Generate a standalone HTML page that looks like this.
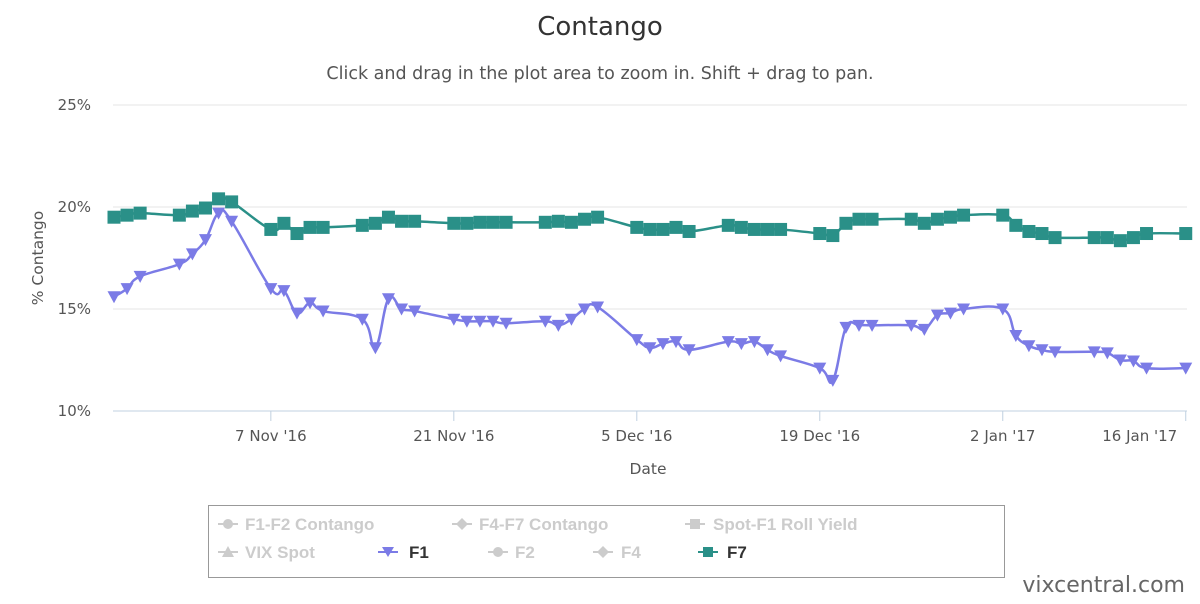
<!DOCTYPE html>
<html><head><meta charset="utf-8"><style>
body{margin:0;background:#fff;font-family:"DejaVu Sans",sans-serif;}
svg text{font-family:"DejaVu Sans",sans-serif;}
svg .lg text{font-family:"Liberation Sans",sans-serif;}
</style></head><body>
<svg id="chart" width="1200" height="600" xmlns="http://www.w3.org/2000/svg">
<text x="600" y="35" text-anchor="middle" font-size="26" fill="#333">Contango</text>
<text x="600" y="79" text-anchor="middle" font-size="17.5" fill="#555">Click and drag in the plot area to zoom in. Shift + drag to pan.</text>
<g id="grid"></g>
<g id="xaxis"></g>
<text transform="translate(43,258) rotate(-90)" text-anchor="middle" font-size="15.5" fill="#555">% Contango</text>
<text x="648" y="474" text-anchor="middle" font-size="15.5" fill="#555">Date</text>
<g id="series"></g>
<g class="lg">
<rect x="208.5" y="505.5" width="796" height="72" fill="#fff" stroke="#999" stroke-width="1"/>
<g font-size="17" font-weight="bold" fill="#ccc">
<line x1="218" y1="524" x2="238" y2="524" stroke="#ccc" stroke-width="2"/><circle cx="228" cy="524" r="5" fill="#ccc"/>
<text x="245" y="530">F1-F2 Contango</text></g>
<g font-size="17" font-weight="bold" fill="#ccc">
<line x1="452" y1="524" x2="472" y2="524" stroke="#ccc" stroke-width="2"/><path d="M462 518 L468 524 L462 530 L456 524Z" fill="#ccc"/>
<text x="479" y="530">F4-F7 Contango</text></g>
<g font-size="17" font-weight="bold" fill="#ccc">
<line x1="685" y1="524" x2="705" y2="524" stroke="#ccc" stroke-width="2"/><rect x="690" y="519" width="10" height="10" fill="#ccc"/>
<text x="713" y="530">Spot-F1 Roll Yield</text></g>
<g font-size="17" font-weight="bold" fill="#ccc">
<line x1="218" y1="552" x2="238" y2="552" stroke="#ccc" stroke-width="2"/><path d="M228 546 L234 557 L222 557Z" fill="#ccc"/>
<text x="245" y="558">VIX Spot</text></g>
<g font-size="17" font-weight="bold" fill="#333">
<line x1="378" y1="552" x2="398" y2="552" stroke="#7b7be6" stroke-width="2"/><path d="M382 547 L394 547 L388 557Z" fill="#7b7be6"/>
<text x="409" y="558">F1</text></g>
<g font-size="17" font-weight="bold" fill="#ccc">
<line x1="488" y1="552" x2="508" y2="552" stroke="#ccc" stroke-width="2"/><circle cx="498" cy="552" r="5" fill="#ccc"/>
<text x="515" y="558">F2</text></g>
<g font-size="17" font-weight="bold" fill="#ccc">
<line x1="593" y1="552" x2="613" y2="552" stroke="#ccc" stroke-width="2"/><path d="M603 546 L609 552 L603 558 L597 552Z" fill="#ccc"/>
<text x="621" y="558">F4</text></g>
<g font-size="17" font-weight="bold" fill="#333">
<line x1="698" y1="552" x2="718" y2="552" stroke="#2a9088" stroke-width="2"/><rect x="703" y="547" width="10" height="10" fill="#2a9088"/>
<text x="727" y="558">F7</text></g>
</g>
<text x="1185" y="592" text-anchor="end" font-size="22" fill="#666">vixcentral.com</text>
</svg>
<script>
const dates=["2016-10-26","2016-10-27","2016-10-28","2016-10-31","2016-11-01","2016-11-02","2016-11-03","2016-11-04","2016-11-07","2016-11-08","2016-11-09","2016-11-10","2016-11-11","2016-11-14","2016-11-15","2016-11-16","2016-11-17","2016-11-18","2016-11-21","2016-11-22","2016-11-23","2016-11-24","2016-11-25","2016-11-28","2016-11-29","2016-11-30","2016-12-01","2016-12-02","2016-12-05","2016-12-06","2016-12-07","2016-12-08","2016-12-09","2016-12-12","2016-12-13","2016-12-14","2016-12-15","2016-12-16","2016-12-19","2016-12-20","2016-12-21","2016-12-22","2016-12-23","2016-12-26","2016-12-27","2016-12-28","2016-12-29","2016-12-30","2017-01-02","2017-01-03","2017-01-04","2017-01-05","2017-01-06","2017-01-09","2017-01-10","2017-01-11","2017-01-12","2017-01-13","2017-01-16"];
const f1=[15.6,16.0,16.6,17.2,17.7,18.4,19.7,19.3,16.0,15.9,14.8,15.3,14.9,14.5,13.1,15.5,15.0,14.9,14.5,14.4,14.4,14.4,14.3,14.4,14.2,14.5,15.0,15.1,13.5,13.1,13.3,13.4,13.0,13.4,13.3,13.4,13.0,12.7,12.1,11.5,14.1,14.2,14.2,14.2,14.0,14.7,14.8,15.0,15.0,13.7,13.2,13.0,12.9,12.9,12.85,12.5,12.45,12.1,12.1];
const f7=[19.5,19.6,19.7,19.6,19.8,19.95,20.4,20.25,18.9,19.2,18.7,19.0,19.0,19.1,19.2,19.5,19.3,19.3,19.2,19.2,19.25,19.25,19.25,19.25,19.3,19.25,19.4,19.5,19.0,18.9,18.9,19.0,18.8,19.1,19.0,18.9,18.9,18.9,18.7,18.6,19.2,19.4,19.4,19.4,19.2,19.4,19.5,19.6,19.6,19.1,18.8,18.7,18.5,18.5,18.5,18.35,18.5,18.7,18.7];
const yTicks=[10,15,20,25];
const xTickDates=["2016-11-07","2016-11-21","2016-12-05","2016-12-19","2017-01-02","2017-01-16"];
const xTickLabels=["7 Nov '16","21 Nov '16","5 Dec '16","19 Dec '16","2 Jan '17","16 Jan '17"];

const NS="http://www.w3.org/2000/svg";
const d0=Date.UTC(2016,9,26), DAY=86400000;
function dn(s){const p=s.split("-");return (Date.UTC(+p[0],+p[1]-1,+p[2])-d0)/DAY;}
function X(s){return 114+dn(s)*13.07;}
function Y(v){return 411-(v-10)*20.4;}
function mk(tag,at,parent){const e=document.createElementNS(NS,tag);for(const k in at)e.setAttribute(k,at[k]);parent.appendChild(e);return e;}
const grid=document.getElementById("grid"),xa=document.getElementById("xaxis"),ser=document.getElementById("series");
yTicks.forEach(t=>{
  const l=mk("line",{x1:113,x2:1187,y1:Y(t),y2:Y(t),stroke:t==10?"#c0d0e0":"#e6e6e6","stroke-width":1},grid);
  
  
  const tx=mk("text",{x:91,y:Y(t)+5,"text-anchor":"end","font-size":15,fill:"#555"},grid);
  tx.textContent=t+"%";
  
  
});
xTickDates.forEach((d,i)=>{
  const x=X(d);
  const l=mk("line",{x1:x,x2:x,y1:411,y2:421,stroke:"#c0d0e0","stroke-width":1},xa);
  
  
  const last=i==xTickDates.length-1;
  const tx=mk("text",{x:last?x-46:x,y:441,"text-anchor":"middle","font-size":15,fill:"#555"},xa);
  tx.textContent=xTickLabels[i];
  
  
});
function spline(pts){
  let d="M"+pts[0][0]+" "+pts[0][1];
  for(let i=0;i<pts.length-1;i++){
    const p0=pts[i-1]||pts[i],p1=pts[i],p2=pts[i+1],p3=pts[i+2]||p2;
    const t=0.2;
    const c1=[p1[0]+(p2[0]-p0[0])*t,p1[1]+(p2[1]-p0[1])*t];
    const c2=[p2[0]-(p3[0]-p1[0])*t,p2[1]-(p3[1]-p1[1])*t];
    d+=" C"+c1[0]+" "+c1[1]+" "+c2[0]+" "+c2[1]+" "+p2[0]+" "+p2[1];
  }
  return d;
}
function draw(vals,color,name,shape){
  const pts=dates.map((d,i)=>[X(d),Y(vals[i])]);
  const g=mk("g",{},ser);
  
  
  const p=mk("path",{d:spline(pts),fill:"none",stroke:color,"stroke-width":2.5},g);
  
  
  pts.forEach(([x,y])=>{
    let m;
    if(shape=="tri") m=mk("path",{d:`M${x-6.5} ${y-5.5} L${x+6.5} ${y-5.5} L${x} ${y+6.5}Z`,fill:color},g);
    else m=mk("rect",{x:x-6.5,y:y-6.5,width:13,height:13,fill:color},g);
    
    
  });
}
draw(f7,"#2a9088","f7","sq");
draw(f1,"#7b7be6","f1","tri");
</script>
</body></html>
